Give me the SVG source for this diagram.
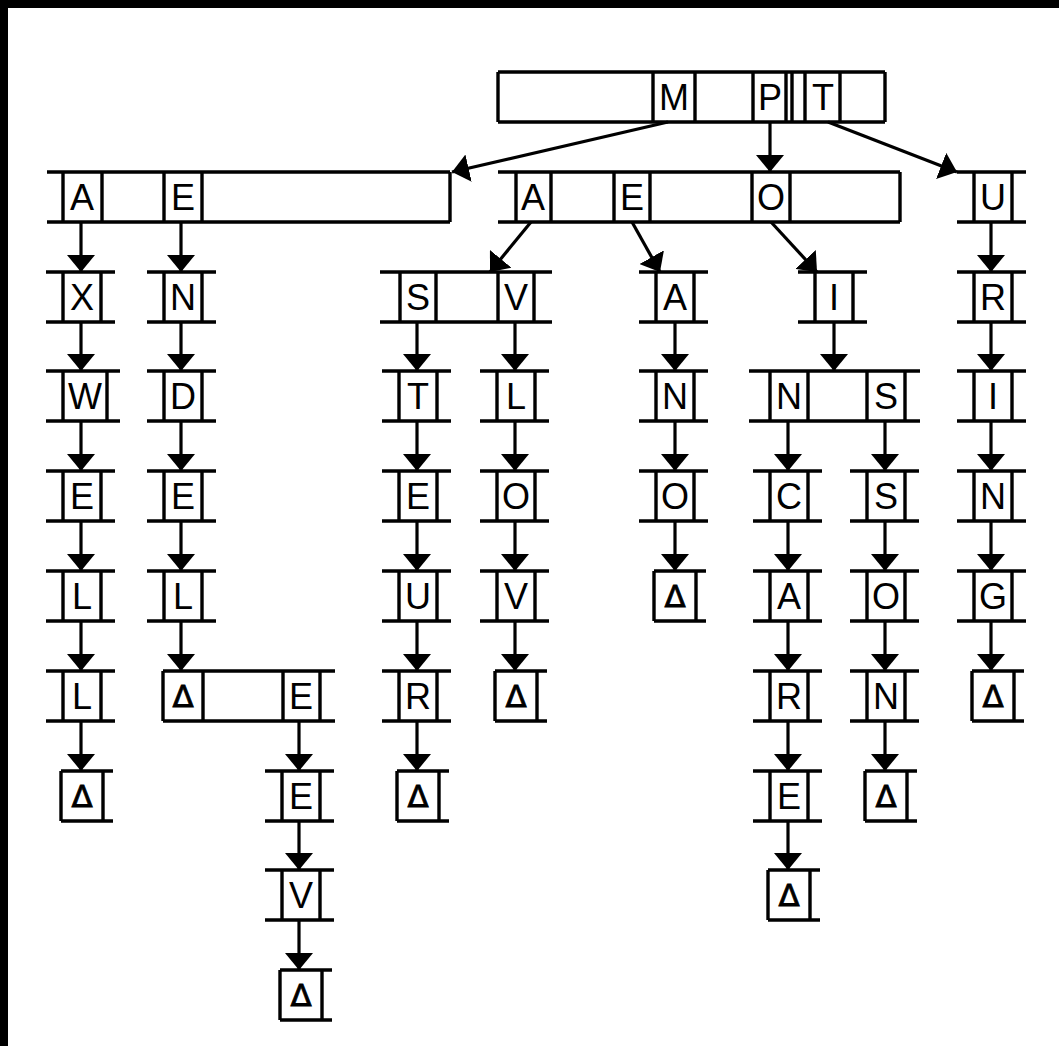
<svg xmlns="http://www.w3.org/2000/svg" width="1059" height="1046" viewBox="0 0 1059 1046">
<defs>
<style>
.ln{stroke:#000;stroke-width:3.4;fill:none}
.t{font-family:"Liberation Sans",Arial,sans-serif;font-size:36px;text-anchor:middle;fill:#000}
.d{font-family:"DejaVu Sans","Liberation Sans",sans-serif;font-size:31px;text-anchor:middle;fill:#000;stroke:#000;stroke-width:0.8}
#connectors line{stroke:#000;stroke-width:3.2;marker-end:url(#ah)}
</style>
<marker id="ah" markerUnits="userSpaceOnUse" viewBox="0 0 17 28" refX="17" refY="14" markerWidth="17" markerHeight="28" orient="auto">
<path d="M0,0 L17,14 L0,28 Z" fill="#000"/>
</marker>
</defs>
<rect width="1059" height="1046" fill="#fff"/>
<rect x="0" y="0" width="1059" height="8" fill="#000"/>
<rect x="0" y="0" width="8" height="1046" fill="#000"/>

<g id="root">
<path class="ln" d="M498,72H885M498,122H885M498,72V122M885,72V122M653,72V122M695,72V122M753,72V122M786,72V122M792,72V122M805,72V122M840,72V122"/>
<text class="t" x="674" y="110">M</text><text class="t" x="770" y="110">P</text><text class="t" x="823" y="110">T</text>
</g>

<g id="n1L">
<path class="ln" d="M47,172H450M47,222H450M450,172V222M63,172V222M102,172V222M164,172V222M202,172V222"/>
<text class="t" x="82" y="210">A</text><text class="t" x="183" y="210">E</text>
</g>
<g id="n1M">
<path class="ln" d="M498,172H900M498,222H900M900,172V222M516,172V222M551,172V222M614,172V222M650,172V222M752,172V222M790,172V222"/>
<text class="t" x="533" y="210">A</text><text class="t" x="632" y="210">E</text><text class="t" x="771" y="210">O</text>
</g>
<g id="n1U">
<path class="ln" d="M957,172H1026M957,222H1026M974,172V222M1012,172V222"/>
<text class="t" x="993" y="210">U</text>
</g>

<!-- row 2 -->
<g id="r2X"><path class="ln" d="M46,272H115M46,322H115M63,272V322M101,272V322"/><text class="t" x="82" y="310">X</text></g>
<g id="r2N"><path class="ln" d="M147,272H216M147,322H216M164,272V322M202,272V322"/><text class="t" x="183" y="310">N</text></g>
<g id="r2SV"><path class="ln" d="M380,272H552M380,322H552M400,272V322M436,272V322M498,272V322M534,272V322"/><text class="t" x="418" y="310">S</text><text class="t" x="516" y="310">V</text></g>
<g id="r2A"><path class="ln" d="M639,272H708M639,322H708M656,272V322M694,272V322"/><text class="t" x="675" y="310">A</text></g>
<g id="r2I"><path class="ln" d="M798,272H867M798,322H867M815,272V322M853,272V322"/><text class="t" x="834" y="310">I</text></g>
<g id="r2R"><path class="ln" d="M957,272H1026M957,322H1026M974,272V322M1012,272V322"/><text class="t" x="993" y="310">R</text></g>

<!-- row 3 -->
<g id="r3W"><path class="ln" d="M46,371H120M46,421H120M63,371V421M107,371V421"/><text class="t" x="85" y="409">W</text></g>
<g id="r3D"><path class="ln" d="M147,371H216M147,421H216M164,371V421M202,371V421"/><text class="t" x="183" y="409">D</text></g>
<g id="r3T"><path class="ln" d="M382,371H451M382,421H451M399,371V421M437,371V421"/><text class="t" x="418" y="409">T</text></g>
<g id="r3L"><path class="ln" d="M480,371H549M480,421H549M497,371V421M535,371V421"/><text class="t" x="516" y="409">L</text></g>
<g id="r3N"><path class="ln" d="M639,371H708M639,421H708M656,371V421M694,371V421"/><text class="t" x="675" y="409">N</text></g>
<g id="r3NS"><path class="ln" d="M749,371H920M749,421H920M770,371V421M808,371V421M867,371V421M905,371V421"/><text class="t" x="789" y="409">N</text><text class="t" x="886" y="409">S</text></g>
<g id="r3I"><path class="ln" d="M957,371H1026M957,421H1026M974,371V421M1012,371V421"/><text class="t" x="993" y="409">I</text></g>

<!-- row 4 -->
<g id="r4E1"><path class="ln" d="M46,471H115M46,521H115M63,471V521M101,471V521"/><text class="t" x="82" y="509">E</text></g>
<g id="r4E2"><path class="ln" d="M147,471H216M147,521H216M164,471V521M202,471V521"/><text class="t" x="183" y="509">E</text></g>
<g id="r4E3"><path class="ln" d="M382,471H451M382,521H451M399,471V521M437,471V521"/><text class="t" x="418" y="509">E</text></g>
<g id="r4O1"><path class="ln" d="M480,471H549M480,521H549M497,471V521M535,471V521"/><text class="t" x="516" y="509">O</text></g>
<g id="r4O2"><path class="ln" d="M639,471H708M639,521H708M656,471V521M694,471V521"/><text class="t" x="675" y="509">O</text></g>
<g id="r4C"><path class="ln" d="M753,471H822M753,521H822M770,471V521M808,471V521"/><text class="t" x="789" y="509">C</text></g>
<g id="r4S"><path class="ln" d="M850,471H919M850,521H919M867,471V521M905,471V521"/><text class="t" x="886" y="509">S</text></g>
<g id="r4N"><path class="ln" d="M957,471H1026M957,521H1026M974,471V521M1012,471V521"/><text class="t" x="993" y="509">N</text></g>

<!-- row 5 -->
<g id="r5L1"><path class="ln" d="M46,571H115M46,621H115M63,571V621M101,571V621"/><text class="t" x="82" y="609">L</text></g>
<g id="r5L2"><path class="ln" d="M147,571H216M147,621H216M164,571V621M202,571V621"/><text class="t" x="183" y="609">L</text></g>
<g id="r5U"><path class="ln" d="M382,571H451M382,621H451M399,571V621M437,571V621"/><text class="t" x="418" y="609">U</text></g>
<g id="r5V"><path class="ln" d="M480,571H549M480,621H549M497,571V621M535,571V621"/><text class="t" x="516" y="609">V</text></g>
<g id="r5D"><path class="ln" d="M654,571H706M654,621H706M654,571V621M696,571V621"/><text class="d" x="675" y="607">Δ</text></g>
<g id="r5A"><path class="ln" d="M753,571H822M753,621H822M770,571V621M808,571V621"/><text class="t" x="789" y="609">A</text></g>
<g id="r5O"><path class="ln" d="M850,571H919M850,621H919M867,571V621M905,571V621"/><text class="t" x="886" y="609">O</text></g>
<g id="r5G"><path class="ln" d="M957,571H1026M957,621H1026M974,571V621M1012,571V621"/><text class="t" x="993" y="609">G</text></g>

<!-- row 6 -->
<g id="r6L"><path class="ln" d="M46,671H115M46,721H115M63,671V721M101,671V721"/><text class="t" x="82" y="709">L</text></g>
<g id="r6DE"><path class="ln" d="M163,671H335M163,721H335M163,671V721M203,671V721M283,671V721M320,671V721"/><text class="d" x="183" y="707">Δ</text><text class="t" x="301" y="709">E</text></g>
<g id="r6R1"><path class="ln" d="M382,671H451M382,721H451M399,671V721M437,671V721"/><text class="t" x="418" y="709">R</text></g>
<g id="r6D1"><path class="ln" d="M495,671H547M495,721H547M495,671V721M537,671V721"/><text class="d" x="516" y="707">Δ</text></g>
<g id="r6R2"><path class="ln" d="M753,671H822M753,721H822M770,671V721M808,671V721"/><text class="t" x="789" y="709">R</text></g>
<g id="r6N"><path class="ln" d="M850,671H919M850,721H919M867,671V721M905,671V721"/><text class="t" x="886" y="709">N</text></g>
<g id="r6D2"><path class="ln" d="M972,671H1024M972,721H1024M972,671V721M1014,671V721"/><text class="d" x="993" y="707">Δ</text></g>

<!-- row 7 -->
<g id="r7D1"><path class="ln" d="M61,771H113M61,821H113M61,771V821M103,771V821"/><text class="d" x="82" y="807">Δ</text></g>
<g id="r7E1"><path class="ln" d="M265,771H334M265,821H334M282,771V821M320,771V821"/><text class="t" x="301" y="809">E</text></g>
<g id="r7D2"><path class="ln" d="M397,771H449M397,821H449M397,771V821M439,771V821"/><text class="d" x="418" y="807">Δ</text></g>
<g id="r7E2"><path class="ln" d="M753,771H822M753,821H822M770,771V821M808,771V821"/><text class="t" x="789" y="809">E</text></g>
<g id="r7D3"><path class="ln" d="M865,771H917M865,821H917M865,771V821M907,771V821"/><text class="d" x="886" y="807">Δ</text></g>

<!-- row 8 -->
<g id="r8V"><path class="ln" d="M265,870H334M265,920H334M282,870V920M320,870V920"/><text class="t" x="301" y="908">V</text></g>
<g id="r8D"><path class="ln" d="M768,870H820M768,920H820M768,870V920M810,870V920"/><text class="d" x="789" y="906">Δ</text></g>

<!-- row 9 -->
<g id="r9D"><path class="ln" d="M280,970H332M280,1020H332M280,970V1020M322,970V1020"/><text class="d" x="301" y="1006">Δ</text></g>

<g id="connectors">
<line x1="668" y1="122" x2="452" y2="172"/>
<line x1="770" y1="122" x2="770" y2="172"/>
<line x1="828" y1="122" x2="957" y2="172"/>
<line x1="531" y1="222" x2="490" y2="272"/>
<line x1="632" y1="222" x2="660" y2="272"/>
<line x1="771" y1="222" x2="817" y2="272"/>
<line x1="834" y1="322" x2="834" y2="371"/>

<line x1="81" y1="222" x2="81" y2="272"/>
<line x1="81" y1="322" x2="81" y2="371"/>
<line x1="81" y1="421" x2="81" y2="471"/>
<line x1="81" y1="521" x2="81" y2="571"/>
<line x1="81" y1="621" x2="81" y2="671"/>
<line x1="81" y1="721" x2="81" y2="771"/>

<line x1="181" y1="222" x2="181" y2="272"/>
<line x1="181" y1="322" x2="181" y2="371"/>
<line x1="181" y1="421" x2="181" y2="471"/>
<line x1="181" y1="521" x2="181" y2="571"/>
<line x1="181" y1="621" x2="181" y2="671"/>

<line x1="299" y1="721" x2="299" y2="771"/>
<line x1="299" y1="821" x2="299" y2="870"/>
<line x1="299" y1="920" x2="299" y2="970"/>

<line x1="417" y1="322" x2="417" y2="371"/>
<line x1="417" y1="421" x2="417" y2="471"/>
<line x1="417" y1="521" x2="417" y2="571"/>
<line x1="417" y1="621" x2="417" y2="671"/>
<line x1="417" y1="721" x2="417" y2="771"/>

<line x1="515" y1="322" x2="515" y2="371"/>
<line x1="515" y1="421" x2="515" y2="471"/>
<line x1="515" y1="521" x2="515" y2="571"/>
<line x1="515" y1="621" x2="515" y2="671"/>

<line x1="675" y1="322" x2="675" y2="371"/>
<line x1="675" y1="421" x2="675" y2="471"/>
<line x1="675" y1="521" x2="675" y2="571"/>

<line x1="788" y1="421" x2="788" y2="471"/>
<line x1="788" y1="521" x2="788" y2="571"/>
<line x1="788" y1="621" x2="788" y2="671"/>
<line x1="788" y1="721" x2="788" y2="771"/>
<line x1="788" y1="821" x2="788" y2="870"/>

<line x1="885" y1="421" x2="885" y2="471"/>
<line x1="885" y1="521" x2="885" y2="571"/>
<line x1="885" y1="621" x2="885" y2="671"/>
<line x1="885" y1="721" x2="885" y2="771"/>

<line x1="991" y1="222" x2="991" y2="272"/>
<line x1="991" y1="322" x2="991" y2="371"/>
<line x1="991" y1="421" x2="991" y2="471"/>
<line x1="991" y1="521" x2="991" y2="571"/>
<line x1="991" y1="621" x2="991" y2="671"/>
</g>
</svg>
